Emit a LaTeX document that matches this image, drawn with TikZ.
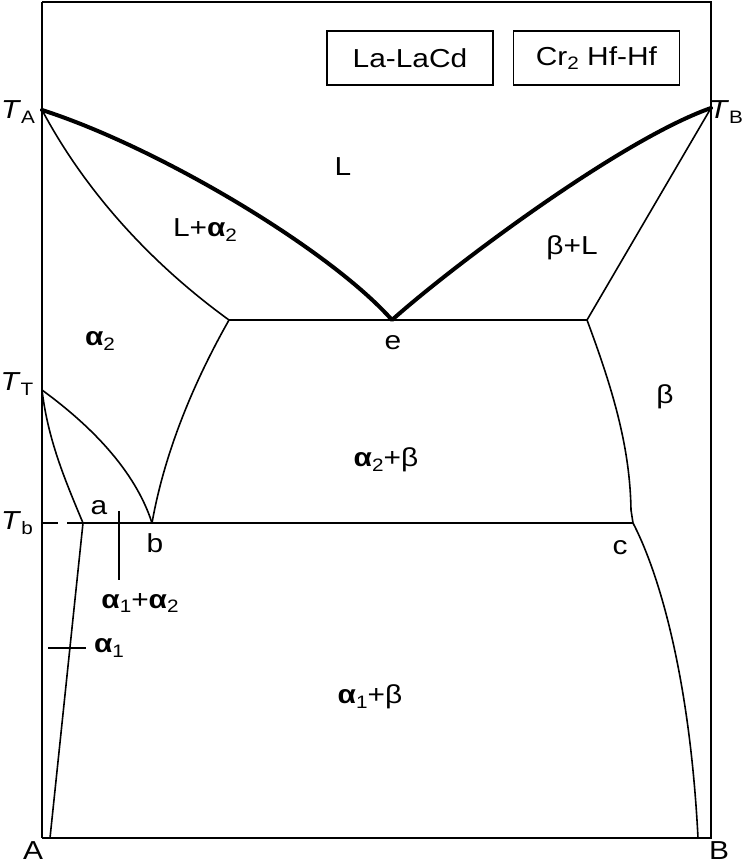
\documentclass[tikz,border=0pt]{standalone}
\usepackage{fontspec}
\setmainfont[FakeStretch=1.15]{Liberation Sans}
\usetikzlibrary{positioning}
\newcommand{\lowsub}[1]{\raisebox{-0.35ex}{\fontsize{18}{18}\selectfont #1}}
\newcommand{\phalpha}{\textbf{α}}

\begin{document}
\begin{tikzpicture}[
  x=1pt, y=-1pt,
  thinl/.style={line width=1.6pt},
  liq/.style={line width=4pt, line cap=round, line join=round},
  frm/.style={line width=2.6pt},
  lbl/.style={font=\fontsize{26}{30}\selectfont, inner sep=0pt},
  sys/.style={draw, line width=1.4pt, minimum width=166pt, minimum height=54pt, inner sep=0pt, font=\fontsize{26}{30}\selectfont}
]
  \useasboundingbox (0,0) rectangle (743,864);
  % --- frame ---
  \draw[thinl] (42,2) -- (42,838);
  \draw[frm] (42,2) -- (711,2) -- (711,838) -- (42,838);
  % --- points ---
  \coordinate (TA) at (42,110);
  \coordinate (TB) at (711,108);
  \coordinate (TT) at (42,390);
  \coordinate (e) at (392,320);
  \coordinate (eL) at (229,320);
  \coordinate (eR) at (587,320);
  \coordinate (a) at (83,523);
  \coordinate (b) at (152,523);
  \coordinate (c) at (633,523);
  \coordinate (Tb) at (42,523);
  \coordinate (A0) at (50,838);
  \coordinate (B0) at (698,838);
  % liquidus
  \draw[liq] (TA) .. controls (160,148) and (330,250) .. (e)
             .. controls (450,268) and (620,140) .. (TB);
  % solidus and solvus lines
  \draw[thinl] (TA) .. controls (90,200) and (160,270) .. (eL);
  \draw[thinl] (TB) -- (eR);
  \draw[thinl] (eL) -- (eR);
  \draw[thinl] (eL) .. controls (195,380) and (165,450) .. (b);
  \draw[thinl] (eR) .. controls (615,395) and (630,450) .. (631,510) -- (c);
  \draw[thinl] (c) .. controls (660,575) and (690,680) .. (B0);
  \draw[thinl] (TT) .. controls (90,425) and (135,470) .. (b);
  \draw[thinl] (TT) .. controls (48,440) and (65,480) .. (a);
  \draw[thinl] (a) -- (A0);
  \draw[thinl, dash pattern=on 16pt off 9pt] (Tb) -- (a);
  \draw[thinl] (a) -- (c);
  % leader lines
  \coordinate (m1) at (119,511);
  \coordinate (m2) at (119,580);
  \coordinate (n1) at (48,648);
  \coordinate (n2) at (86,648);
  \draw[thinl] (m1) -- (m2);
  \draw[thinl] (n1) -- (n2);
  % --- labels ---
  \node[lbl] (lTA) at (18,112) {\textit{T}\lowsub{A}};
  \node[lbl] (lTB) at (726,112) {\textit{T}\lowsub{B}};
  \node[lbl] (lTT) at (17,384) {\textit{T}\lowsub{T}};
  \node[lbl] (lTb) at (17,523) {\textit{T}\lowsub{b}};
  \node[lbl] (lL) at (343,167) {L};
  \node[lbl] (lLa) at (205,230) {L+\phalpha\lowsub{2}};
  \node[lbl] (lbL) at (572,248) {β+L};
  \node[lbl] (la2) at (100,341) {\phalpha\lowsub{2}};
  \node[lbl] (le) at (393,343) {e};
  \node[lbl] (lb) at (665,397) {β};
  \node[lbl] (la2b) at (386,460) {\phalpha\lowsub{2}+β};
  \node[lbl] (lpa) at (99,508) {a};
  \node[lbl] (lpb) at (155,543) {b};
  \node[lbl] (lpc) at (620,548) {c};
  \node[lbl] (la12) at (140,603) {\phalpha\lowsub{1}+\phalpha\lowsub{2}};
  \node[lbl] (la1) at (109,648) {\phalpha\lowsub{1}};
  \node[lbl] (la1b) at (370,697) {\phalpha\lowsub{1}+β};
  \node[lbl] (lA) at (33,851) {A};
  \node[lbl] (lB) at (719,851) {B};
  % --- systems ---
  \node[sys] (sys1) at (410,58) {La-LaCd};
  \node[sys, right=19pt of sys1] (sys2) {Cr\lowsub{2} Hf-Hf};
\end{tikzpicture}
\end{document}
